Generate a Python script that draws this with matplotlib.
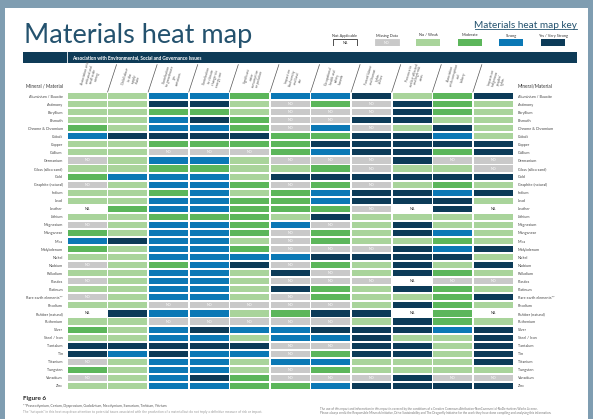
import matplotlib.pyplot as plt
from matplotlib.patches import Rectangle

W, H = 593, 419

minerals = ["Aluminium / Bauxite", "Antimony", "Beryllium", "Bismuth", "Chrome & Chromium",
            "Cobalt", "Copper", "Gallium", "Germanium", "Glass (silica sand)", "Gold",
            "Graphite (natural)", "Indium", "Lead", "Leather", "Lithium", "Magnesium",
            "Manganese", "Mica", "Molybdenum", "Nickel", "Niobium", "Palladium", "Plastics",
            "Platinum", "Rare earth elements**", "Rhodium", "Rubber (natural)", "Ruthenium",
            "Silver", "Steel / Iron", "Tantalum", "Tin", "Titanium", "Tungsten", "Vanadium", "Zinc"]

issues = ["Association with\nartisanal and\nsmall-scale\nmining",
          "Child labour\nin the\nsupply\nchain",
          "Contribution\nto greenhouse\ngas\nemissions",
          "Contribution\nto climate\nchange via\nenergy use",
          "Significant\nwater\nconsumption\nor pollution",
          "Impact on\nbiodiversity\nand land\nuse",
          "Occupational\nhealth and\nsafety\nhazards",
          "Forced labour\nand human\nrights\nabuses",
          "Presence in\nconflict-affected\nand high-risk\nareas",
          "Association\nwith corruption\nand\nbribery",
          "Impacts on\nindigenous\npeoples'\nrights"]

# one letter per issue: N = not applicable, X = missing data, L = no/weak,
# M = moderate, S = strong, V = yes/very strong
ratings = [
    "LLSSMSSVLMV", "LLVVLXMXVML", "LLMMLXXXVML", "LLSVMXXVVLL", "MLSSMXSXLVL",
    "SVVVVMMVVSL", "LLMMMMVVVVV", "LLXXXMSVVMV", "XLSSLXXXVXX", "LLMMLLMXLLX",
    "MSSSLVVVVVV", "XLSSMXMXLML", "LLMSLMSVVSV", "LLSSMMSVVVL", "NMSSMMMXNVN",
    "LLMMMLVLLLL", "XLSSMSXLVLL", "MLSSMXMLVSL", "SVSSLXMLLML", "MLSSMXXXVSV",
    "LLSSSSVVVVL", "XLMSVXMLVLV", "LLSSLVXLVML", "XLSSLXXXNXX", "LLSSLVMLVML",
    "XLSSLXMLLMV", "LLXXXXXLVML", "NVSSLMVVNMN", "LLXXXXXLVML", "MLSVSSVVVSV",
    "LLSSLSSVLLV", "VVVVVXXVVLV", "VSVSSXMVVLV", "XLSSLSSLLLV", "MLSSLXMLLLL",
    "XLSVMXXXVXX", "LLSSMMSVVVV",
]

key_codes = ["N", "X", "L", "M", "S", "V"]
key_labels = ["Not Applicable", "Missing Data", "No / Weak", "Moderate", "Strong", "Yes / Very Strong"]

colors = {"N": "#ffffff", "X": "#c9c9c9", "L": "#a9d49b", "M": "#5cb65b",
          "S": "#0b78b5", "V": "#0c3b58"}
cell_text = {"N": ("NA", "#333333"), "X": ("ND", "#ffffff")}

navy = "#0e3b57"
title_col = "#24526e"
font = "Lato"


def fx(x):
    return x / W


def fy(y):
    return 1 - y / H


fig = plt.figure(figsize=(W / 100, H / 100), dpi=100)
fig.patch.set_facecolor("#7f9db1")
fig.patches.append(Rectangle((fx(5), 0), fx(588) - fx(5), fy(8), transform=fig.transFigure,
                             facecolor="white", edgecolor="none", zorder=-3))

# title and key heading
fig.text(fx(24), fy(43), "Materials heat map", fontsize=19.5, family=font,
         color=title_col, va="baseline")
fig.text(fx(577), fy(27.5), "Materials heat map key", fontsize=7.2, family=font,
         color=title_col, ha="right", va="baseline")
fig.add_artist(plt.Line2D([fx(475), fx(577)], [fy(29.5), fy(29.5)], color=title_col, lw=0.6))

# banner
fig.patches.append(Rectangle((fx(23), fy(63.5)), fx(577) - fx(23), fy(52) - fy(63.5),
                             transform=fig.transFigure, facecolor=navy, edgecolor="none",
                             zorder=-2))
fig.add_artist(plt.Line2D([fx(66.5), fx(66.5)], [fy(52), fy(63.5)], color="white", lw=0.6))
fig.text(fx(72), fy(57.8), "Association with Environmental, Social and Governance Issues",
         fontsize=3.4, fontweight="bold", family=font, color="white", va="center")

# key
kax = fig.add_axes([fx(324.2), fy(46), fx(573.8) - fx(324.2), fy(32) - fy(46)])
kax.set_xlim(-0.5, len(key_codes) - 0.5)
kax.set_ylim(1, 0)
kax.axis("off")
kax.bar(range(len(key_codes)), 0.5, bottom=0.5, width=0.58,
        color=[colors[c] for c in key_codes],
        edgecolor=["#333333", "#c9c9c9", "none", "none", "none", "none"], linewidth=0.6)
for i, (c, lab) in enumerate(zip(key_codes, key_labels)):
    kax.text(i, 0.25, lab, fontsize=2.8, family=font, color="#333333", ha="center", va="center")
    if c in cell_text:
        kax.text(i, 0.76, cell_text[c][0], fontsize=2.6, family=font,
                 color=cell_text[c][1], ha="center", va="center")

# heat map
ax = fig.add_axes([fx(67), fy(390), fx(513.5) - fx(67), fy(92) - fy(390)])
ax.patch.set_alpha(0)
nrows, ncols = len(minerals), len(issues)
ax.set_xlim(0, ncols)
ax.set_ylim(nrows, 0)
for s in ax.spines.values():
    s.set_visible(False)
gx, gy = 0.04, 0.24
for j in range(ncols):
    col = [r[j] for r in ratings]
    ax.barh([i + 0.5 for i in range(nrows)], 1 - gx, left=j + gx / 2, height=1 - gy,
            color=[colors[c] for c in col], edgecolor="none")
    for i, c in enumerate(col):
        if c in cell_text:
            ax.text(j + 0.5, i + 0.5, cell_text[c][0], fontsize=2.6, family=font,
                    color=cell_text[c][1], ha="center", va="center")

ax.set_xticks([])
ax.set_yticks([i + 0.5 for i in range(nrows)])
ax.set_yticklabels(minerals)
ax.tick_params(axis="y", length=0, labelsize=2.7, labelcolor="#444444", pad=3,
               labelright=True, labelleft=True)
for t in ax.get_yticklabels():
    t.set_family(font)

# column headers with slashes
for j in range(ncols):
    if j > 0:
        ax.plot([j, j + 0.22], [0, -3.4], color="#555555", lw=0.5, clip_on=False)
    ax.text(j + 0.6, -0.35, issues[j], rotation=74, fontsize=2.4, family=font,
            color="#555555", ha="center", va="bottom", linespacing=1.1)

ax.text(-0.09, -0.75, "Mineral / Material", fontsize=3.3, family=font, color="#333333",
        ha="right", va="center")
ax.text(ncols + 0.09, -0.75, "Mineral/Material", fontsize=3.3, family=font, color="#333333",
        ha="left", va="center")

# footer
fig.text(fx(23), fy(398), "Figure 6", fontsize=4.6, fontweight="bold", family=font,
         color="#222222", va="center")
fig.text(fx(23), fy(405.5),
         "**Praseodymium, Cerium, Dysprosium, Gadolinium, Neodymium, Samarium, Terbium, Yttrium",
         fontsize=2.5, family=font, color="#555555", va="center")
fig.text(fx(23), fy(411.5),
         "The \"hotspots\" in this heat map draw attention to potential issues associated with the "
         "production of a material but do not imply a definitive measure of risk or impact.",
         fontsize=2.3, family=font, color="#999999", va="center")
fig.text(fx(320), fy(408.5),
         "The use of this report and information in this report is covered by the conditions of a "
         "Creative Commons Attribution-NonCommercial-NoDerivatives Works License.",
         fontsize=2.2, family=font, color="#777777", va="center")
fig.text(fx(320), fy(412.5),
         "Please always credit the Responsible Minerals Initiative, Drive Sustainability and The "
         "Dragonfly Initiative for the work they have done compiling and analysing this information.",
         fontsize=2.2, family=font, color="#777777", va="center")

fig.savefig("out.png", dpi=100, facecolor=fig.get_facecolor())
